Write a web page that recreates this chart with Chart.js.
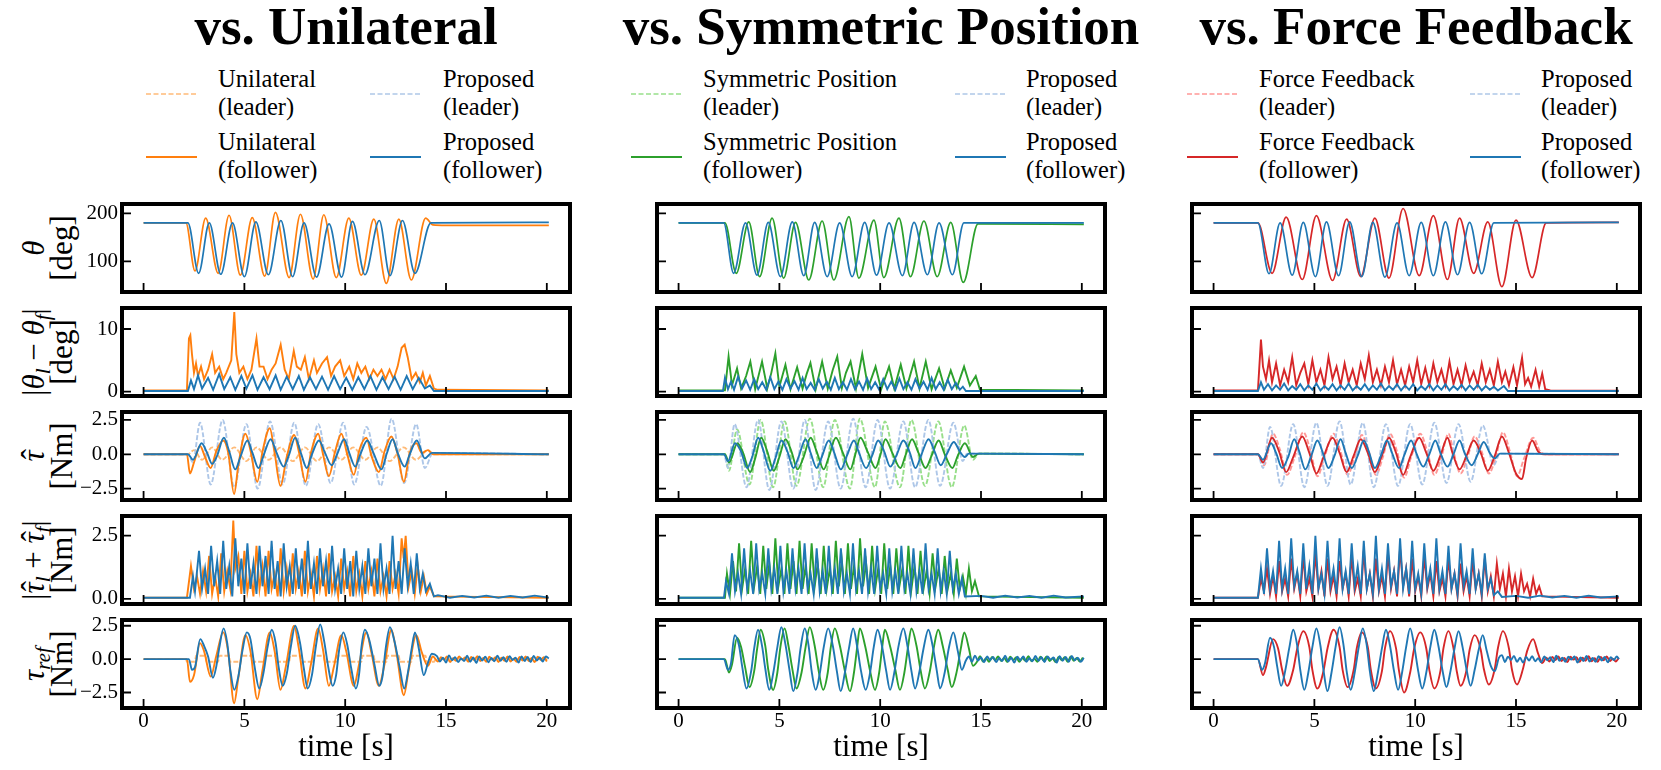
<!DOCTYPE html>
<html>
<head>
<meta charset="utf-8">
<script src="https://cdn.jsdelivr.net/npm/chart.js@4.4.1/dist/chart.umd.min.js"></script>
<style>
  body { margin: 0; width: 1661px; height: 770px; background: #fff; position: relative; overflow: hidden;
         font-family: "Liberation Serif", "DejaVu Serif", serif; color: #000; }
  canvas { position: absolute; }
  .title { position: absolute; top: 0; font-size: 53px; line-height: 53px; font-weight: bold;
           white-space: nowrap; transform: translateX(-50%); }
  .leg { position: absolute; font-size: 24.5px; line-height: 28px; white-space: nowrap; }
  .sample { position: absolute; }
  .ylab { position: absolute; width: 240px; height: 56px; font-size: 31px; line-height: 28px;
          text-align: center; white-space: nowrap; transform: rotate(-90deg); }
  .ylab i { font-style: italic; }
  .ylab sub { font-size: 0.68em; vertical-align: -0.28em; line-height: 0; }
  .hat { position: relative; display: inline-block; font-style: italic; }
  .hat b { position: absolute; left: 0.06em; right: -0.06em; top: -0.02em; text-align: center;
           font-weight: normal; font-style: normal; }
</style>
</head>
<body>
<script>
// ---------- data: [time (s), value] ----------
// column 1: vs. Unilateral
const uniThetaBase = [[0,180],[2.1,180],[2.55,80],[3.08,190],[3.7,75],[4.24,196],[4.8,71],[5.39,191],[6.01,69],[6.54,202],[7.22,66],[7.78,198],[8.41,63],[8.94,197],[9.56,66],[10.18,190],[10.8,71],[11.42,188],[12.04,54],[12.66,188],[13.28,61],[13.99,190],[14.35,176],[15,175],[20.1,175]];
const uniThetaPro = [[0,180],[2.2,180],[2.73,75],[3.26,180],[3.83,73],[4.41,180],[5.0,68],[5.57,182],[6.19,72],[6.81,185],[7.39,68],[7.96,180],[8.58,67],[9.2,178],[9.82,67],[10.36,183],[10.98,72],[11.69,185],[12.22,70],[12.84,185],[13.46,75],[14.25,180],[20.1,181]];

const uniErrBase = [[0,0.2],[2.15,0.2],[2.25,8.5],[2.32,9.0],[2.4,6],[2.5,3],[2.6,4.5],[2.7,2.5],[2.85,4],[3.0,2],[3.2,3.5],[3.4,6],[3.55,3],[3.75,4],[3.95,2],[4.1,3],[4.35,5],[4.5,12.7],[4.6,6],[4.75,3],[4.95,4],[5.15,2],[5.35,3.5],[5.6,8.5],[5.75,4],[5.95,4],[6.15,2],[6.35,3.5],[6.55,4.5],[6.8,7.5],[7.0,3.5],[7.2,2],[7.45,6.5],[7.6,4],[7.8,3.5],[8.0,5.5],[8.2,2],[8.45,5],[8.6,3],[8.85,4.5],[9.1,5.5],[9.3,2.5],[9.5,4],[9.75,5],[9.95,2.5],[10.2,4],[10.4,2],[10.6,4.5],[10.8,3],[11.0,4],[11.2,2],[11.4,3.5],[11.6,2.5],[11.8,3.5],[12.0,2],[12.2,3.5],[12.4,2],[12.6,4],[12.8,7],[12.95,7.5],[13.1,5.5],[13.3,2],[13.5,3],[13.7,1.5],[13.85,3],[14.0,1],[14.2,2.5],[14.4,0.5],[14.6,0.3],[20.1,0.2]];
const uniErrPro = [[0,0.1],[2.2,0.1],[2.35,1.8],[2.5,0.4],[2.7,2.6],[2.9,0.5],[3.2,2.2],[3.45,0.3],[3.75,2.8],[4.0,0.4],[4.3,2.3],[4.55,0.3],[4.85,2.5],[5.1,0.5],[5.4,2.6],[5.65,0.3],[5.95,2.3],[6.25,0.4],[6.55,2.6],[6.8,0.3],[7.1,2.4],[7.4,0.4],[7.7,2.5],[7.95,0.3],[8.25,2.3],[8.55,0.4],[8.85,2.4],[9.15,0.3],[9.45,2.5],[9.75,0.4],[10.05,2.2],[10.35,0.3],[10.65,2.3],[10.95,0.4],[11.25,2.5],[11.55,0.3],[11.85,2.3],[12.15,0.4],[12.45,2.4],[12.75,0.3],[13.05,2.5],[13.35,0.4],[13.65,2.2],[13.95,0.5],[14.2,1.0],[14.4,0.1],[20.1,0.1]];

const uniTauBaseL = [[0,0],[2.2,0],[2.5,0.3],[2.9,-0.4],[3.4,0.5],[3.9,-0.4],[4.5,0.5],[5.1,-0.5],[5.6,0.5],[6.2,-0.4],[6.8,0.5],[7.4,-0.5],[8.0,0.5],[8.6,-0.5],[9.2,0.5],[9.8,-0.4],[10.4,0.5],[11.0,-0.4],[11.6,0.5],[12.2,-0.5],[12.9,0.5],[13.5,-0.4],[14.1,0.3],[14.4,0],[20.1,0]];
const uniTauProL = [[0,0],[2.2,0],[2.45,-0.6],[2.8,2.3],[3.33,-2.2],[3.92,2.5],[4.5,-2.4],[5.1,2.2],[5.66,-2.5],[6.27,2.4],[6.9,-2.2],[7.47,2.3],[8.05,-2.3],[8.66,2.2],[9.28,-2.1],[9.9,2.3],[10.45,-2.2],[11.06,2.0],[11.77,-2.3],[12.3,2.6],[12.92,-2.1],[13.52,2.2],[13.95,-1.0],[14.35,0.1],[20.1,0]];
const uniTauBase = [[0,0],[2.15,0],[2.3,-1.4],[2.5,-0.6],[2.8,0.6],[3.05,-0.2],[3.33,-1.0],[3.6,0.2],[3.95,1.0],[4.2,0.1],[4.49,-2.9],[4.7,-0.8],[5.05,1.5],[5.3,0.3],[5.64,-2.0],[5.9,0.2],[6.26,1.9],[6.5,0.1],[6.79,-2.3],[7.1,-0.2],[7.47,1.4],[7.7,0.2],[8.03,-2.0],[8.3,0.1],[8.66,1.5],[8.9,0],[9.19,-1.6],[9.5,0.2],[9.81,1.5],[10.1,0],[10.43,-1.5],[10.7,0.3],[11.05,1.2],[11.3,-0.1],[11.67,-1.3],[11.95,0.2],[12.29,1.3],[12.6,0],[12.91,-2.0],[13.2,0.1],[13.53,0.8],[13.8,0.1],[14.1,0.3],[14.35,0],[20.1,0]];
const uniTauPro = [[0,0],[2.2,0],[2.45,-0.4],[2.88,0.8],[3.15,0.1],[3.4,-0.7],[3.65,-0.1],[3.98,1.2],[4.25,0.2],[4.55,-1.1],[4.8,-0.2],[5.15,1.0],[5.4,0.1],[5.7,-1.0],[5.95,-0.1],[6.3,1.1],[6.6,0.1],[6.95,-0.9],[7.2,-0.1],[7.52,1.2],[7.8,0.1],[8.1,-1.0],[8.35,0],[8.7,1.0],[9.0,0.1],[9.33,-0.8],[9.6,0],[9.95,1.1],[10.2,0.1],[10.5,-0.9],[10.75,0],[11.1,1.0],[11.4,0.1],[11.8,-1.1],[12.05,0],[12.35,1.1],[12.6,0.1],[12.95,-0.9],[13.2,0],[13.55,1.0],[13.95,-0.3],[14.3,0.1],[20.1,0]];

const uniSumBase = [[0,0.05],[2.15,0.05],[2.35,1.3],[2.5,0.4],[2.65,0.9],[2.8,0.2],[2.95,1.1],[3.1,0.3],[3.25,1.7],[3.4,0.2],[3.55,0.9],[3.7,0.1],[3.85,1.8],[4.0,0.3],[4.15,1.1],[4.3,0.4],[4.45,3.1],[4.55,1.2],[4.7,1.7],[4.85,0.2],[5.0,1.9],[5.15,0.3],[5.3,1.0],[5.45,0.1],[5.6,2.1],[5.75,0.4],[5.9,1.3],[6.05,0.1],[6.2,1.9],[6.35,0.4],[6.5,1.0],[6.65,0.1],[6.8,2.0],[6.95,0.3],[7.1,1.2],[7.25,0.1],[7.4,1.8],[7.55,0.4],[7.7,1.1],[7.85,0.1],[8.0,1.9],[8.15,0.3],[8.3,1.0],[8.45,0.1],[8.6,1.7],[8.75,0.4],[8.9,1.2],[9.05,0.1],[9.2,1.8],[9.35,0.3],[9.5,0.9],[9.65,0.1],[9.8,1.6],[9.95,0.4],[10.1,1.1],[10.25,0.1],[10.4,1.7],[10.55,0.3],[10.7,1.0],[10.85,0.1],[11.0,1.5],[11.15,0.4],[11.3,1.1],[11.45,0.1],[11.6,1.6],[11.75,0.3],[11.9,0.9],[12.05,0.1],[12.2,1.5],[12.35,0.4],[12.5,1.0],[12.65,0.2],[12.8,2.4],[12.9,1.6],[13.0,2.5],[13.15,0.5],[13.3,1.1],[13.45,0.2],[13.6,1.3],[13.75,0.3],[13.9,0.9],[14.05,0.2],[14.2,0.5],[14.4,0.1],[20.1,0.05]];
const uniSumPro = [[0,0.05],[2.3,0.05],[2.45,0.9],[2.55,0.3],[2.75,1.9],[2.9,0.4],[3.05,1.2],[3.2,0.2],[3.35,2.1],[3.5,0.5],[3.65,1.5],[3.8,0.2],[3.95,2.3],[4.1,0.4],[4.25,1.3],[4.4,0.1],[4.55,2.4],[4.7,0.5],[4.85,1.6],[5.0,0.2],[5.15,2.2],[5.3,0.4],[5.45,1.4],[5.6,0.2],[5.75,2.1],[5.9,0.5],[6.05,1.7],[6.2,0.2],[6.35,2.3],[6.5,0.4],[6.65,1.5],[6.8,0.1],[6.95,2.2],[7.1,0.5],[7.25,1.3],[7.4,0.2],[7.55,2.0],[7.7,0.4],[7.85,1.6],[8.0,0.2],[8.15,2.3],[8.3,0.4],[8.45,1.4],[8.6,0.2],[8.75,2.0],[8.9,0.5],[9.05,1.5],[9.2,0.2],[9.35,2.1],[9.5,0.4],[9.65,1.2],[9.8,0.2],[9.95,2.0],[10.1,0.4],[10.25,1.5],[10.4,0.1],[10.55,1.9],[10.7,0.4],[10.85,1.3],[11.0,0.2],[11.15,2.0],[11.3,0.5],[11.45,1.6],[11.6,0.2],[11.75,2.2],[11.9,0.4],[12.05,1.2],[12.2,0.2],[12.35,2.5],[12.5,0.4],[12.65,1.5],[12.8,0.2],[12.95,2.0],[13.1,0.5],[13.25,1.4],[13.4,0.2],[13.55,1.8],[13.7,0.4],[13.85,1.0],[14.0,0.3],[14.2,0.6],[14.4,0.1],[14.6,0.15],[15.2,0.05],[15.8,0.12],[16.4,0.06],[17,0.13],[17.6,0.05],[18.2,0.12],[18.8,0.06],[19.4,0.13],[20.1,0.05]];

const uniRefBaseL = [[0,0],[2.1,0],[2.15,-0.2],[2.55,-0.2],[2.6,0.25],[3.08,0.25],[3.13,-0.2],[3.7,-0.2],[3.75,0.25],[4.24,0.25],[4.29,-0.2],[4.8,-0.2],[4.85,0.25],[5.39,0.25],[5.44,-0.2],[6.01,-0.2],[6.06,0.25],[6.54,0.25],[6.59,-0.2],[7.22,-0.2],[7.27,0.25],[7.78,0.25],[7.83,-0.2],[8.41,-0.2],[8.46,0.25],[8.94,0.25],[8.99,-0.2],[9.56,-0.2],[9.61,0.25],[10.18,0.25],[10.23,-0.2],[10.8,-0.2],[10.85,0.25],[11.42,0.25],[11.47,-0.2],[12.04,-0.2],[12.09,0.25],[12.66,0.25],[12.71,-0.2],[13.28,-0.2],[13.33,0.25],[13.99,0.25],[14.04,-0.2],[14.4,-0.2],[14.5,0],[20.1,0]];
const uniRefBase = [[0,0],[2.15,0],[2.3,-1.7],[2.5,-1.2],[2.8,1.2],[3.0,0.6],[3.33,-1.3],[3.6,0.2],[3.95,2.0],[4.2,0.5],[4.49,-3.3],[4.7,-1.4],[5.05,1.8],[5.3,0.6],[5.64,-3.0],[5.9,-0.8],[6.26,2.0],[6.5,0.6],[6.79,-2.3],[7.05,-0.6],[7.47,2.5],[7.7,0.8],[8.03,-2.2],[8.3,-0.4],[8.66,2.3],[8.9,0.7],[9.19,-2.0],[9.45,-0.5],[9.81,1.8],[10.05,0.6],[10.43,-2.0],[10.7,-0.3],[11.05,2.0],[11.3,0.5],[11.67,-2.0],[11.95,-0.4],[12.29,2.2],[12.55,0.4],[12.91,-2.7],[13.15,-0.8],[13.53,1.8],[13.8,0.5],[14.1,-0.5],[14.35,0.2],[14.6,-0.18],[14.75,0.15],[14.9,-0.05],[15.05,0.2],[15.2,-0.22],[15.35,0.06],[15.5,-0.12],[15.65,0.2],[15.8,-0.04],[15.95,0.12],[16.1,-0.2],[16.25,0.16],[16.4,-0.08],[16.55,0.22],[16.7,-0.15],[16.85,0.08],[17.0,-0.2],[17.15,0.18],[17.3,-0.06],[17.45,0.14],[17.6,-0.22],[17.75,0.1],[17.9,-0.12],[18.05,0.2],[18.2,-0.18],[18.35,0.04],[18.5,-0.2],[18.65,0.16],[18.8,-0.1],[18.95,0.2],[19.1,-0.14],[19.25,0.08],[19.4,-0.22],[19.55,0.18],[19.7,-0.06],[19.85,0.14],[20.0,-0.18]];
const uniRefPro = [[0,0],[2.25,0],[2.4,-0.8],[2.55,-0.6],[2.81,1.5],[3.0,1.0],[3.2,0.2],[3.44,-1.4],[3.6,-0.6],[3.75,0.8],[3.97,2.3],[4.15,1.2],[4.3,-0.8],[4.5,-2.3],[4.7,-1.3],[4.9,0.6],[5.12,2.0],[5.3,1.5],[5.5,-0.5],[5.74,-2.2],[5.95,-1.0],[6.15,0.9],[6.36,2.2],[6.55,1.2],[6.7,-0.6],[6.9,-2.0],[7.1,-1.1],[7.3,0.9],[7.52,2.5],[7.75,1.3],[7.95,-0.7],[8.14,-2.2],[8.35,-1.2],[8.55,1.0],[8.76,2.6],[8.95,1.4],[9.15,-0.5],[9.38,-2.0],[9.55,-1.2],[9.7,0.7],[9.91,2.0],[10.1,1.1],[10.3,-0.7],[10.53,-2.2],[10.7,-1.0],[10.8,0.8],[10.98,2.2],[11.2,1.4],[11.45,-0.4],[11.69,-2.0],[11.85,-1.3],[12.0,0.7],[12.22,2.4],[12.45,1.3],[12.7,-0.6],[12.93,-2.2],[13.1,-1.1],[13.3,0.8],[13.46,2.0],[13.65,0.8],[13.9,-1.2],[14.1,-0.3],[14.3,0.4],[14.55,0.22],[14.7,-0.18],[14.85,0.1],[15.0,-0.25],[15.15,0.28],[15.3,-0.08],[15.45,0.15],[15.6,-0.22],[15.75,0.05],[15.9,-0.15],[16.05,0.25],[16.2,-0.2],[16.35,0.12],[16.5,-0.28],[16.65,0.2],[16.8,-0.1],[16.95,0.18],[17.1,-0.24],[17.25,0.08],[17.4,-0.16],[17.55,0.26],[17.7,-0.12],[17.85,0.14],[18.0,-0.2],[18.15,0.22],[18.3,-0.06],[18.45,0.1],[18.6,-0.26],[18.75,0.2],[18.9,-0.14],[19.05,0.16],[19.2,-0.22],[19.35,0.24],[19.5,-0.1],[19.65,0.12],[19.8,-0.18],[19.95,0.2],[20.1,0.05]];

// column 2: vs. Symmetric Position
const symThetaBase = [[0,180],[2.3,180],[2.86,75],[3.48,182],[4.02,68],[4.64,190],[5.21,65],[5.8,181],[6.46,61],[7.12,184],[7.7,61],[8.45,193],[8.94,65],[9.69,186],[10.18,66],[10.93,190],[11.5,68],[12.17,184],[12.83,68],[13.5,181],[14.12,56],[14.85,178],[20.1,177]];
const symThetaPro = [[0,180],[2.24,180],[2.73,75],[3.32,180],[3.89,71],[4.45,181],[5.05,68],[5.64,182],[6.21,70],[6.75,181],[7.37,68],[7.99,180],[8.61,68],[9.23,181],[9.82,71],[10.44,180],[11.1,70],[11.68,181],[12.34,72],[12.92,180],[13.58,72],[14.15,180],[20.1,180]];

const symErrBase = [[0,0.2],[2.3,0.2],[2.48,5.6],[2.65,1.0],[2.9,3.7],[3.1,0.5],[3.35,2.5],[3.56,4.8],[3.8,0.4],[4.14,4.8],[4.4,0.5],[4.6,3.0],[4.8,6.1],[5.0,0.8],[5.3,4.3],[5.55,0.4],[5.88,3.9],[6.15,0.5],[6.35,2.8],[6.54,4.6],[6.8,0.4],[7.12,4.8],[7.4,0.5],[7.65,3.5],[7.87,5.6],[8.1,0.6],[8.3,3.0],[8.53,4.8],[8.8,0.5],[9.11,6.0],[9.4,0.6],[9.77,4.0],[10.05,0.4],[10.44,4.0],[10.7,0.5],[11.02,4.3],[11.3,0.5],[11.68,4.8],[11.95,0.5],[12.26,4.8],[12.55,0.4],[12.92,3.7],[13.2,0.5],[13.5,3.4],[13.8,0.6],[14.16,4.0],[14.45,1.0],[14.74,2.5],[14.95,0.3],[20.1,0.2]];
const symErrPro = [[0,0.1],[2.2,0.1],[2.3,2.2],[2.45,0.4],[2.6,1.6],[2.75,0.3],[2.95,2.4],[3.15,0.5],[3.35,1.8],[3.55,0.3],[3.75,2.0],[3.95,0.4],[4.15,1.5],[4.35,0.3],[4.55,2.3],[4.75,0.4],[4.95,1.6],[5.15,0.3],[5.35,2.0],[5.55,0.5],[5.75,1.7],[5.95,0.3],[6.15,2.2],[6.35,0.4],[6.55,1.4],[6.75,0.3],[6.95,2.0],[7.15,0.5],[7.35,1.6],[7.55,0.3],[7.75,2.2],[7.95,0.4],[8.15,1.5],[8.35,0.3],[8.55,2.0],[8.75,0.4],[8.95,1.6],[9.15,0.3],[9.35,2.1],[9.55,0.4],[9.75,1.5],[9.95,0.3],[10.15,2.0],[10.35,0.4],[10.55,1.6],[10.75,0.3],[10.95,2.1],[11.15,0.4],[11.35,1.5],[11.55,0.3],[11.75,2.0],[11.95,0.5],[12.15,1.6],[12.35,0.3],[12.55,2.2],[12.75,0.4],[12.95,1.5],[13.15,0.3],[13.35,1.9],[13.55,0.4],[13.75,1.4],[13.95,0.3],[14.1,0.8],[14.25,0.1],[20.1,0.1]];

const symTauBaseL = [[0,0],[2.3,0],[2.5,-1.2],[2.9,1.8],[3.52,-2.2],[4.07,2.5],[4.69,-2.4],[5.26,2.4],[5.85,-2.3],[6.51,2.6],[7.17,-2.4],[7.75,2.5],[8.5,-2.5],[8.99,2.6],[9.74,-2.4],[10.23,2.4],[10.98,-2.4],[11.55,2.5],[12.22,-2.3],[12.88,2.4],[13.55,-2.4],[14.17,2.1],[14.6,-0.4],[14.9,0.05],[20.1,0]];
const symTauProL = [[0,0],[2.25,0],[2.45,-1.0],[2.78,2.2],[3.37,-2.4],[3.94,2.5],[4.5,-2.6],[5.1,2.4],[5.69,-2.5],[6.26,2.5],[6.8,-2.6],[7.42,2.4],[8.04,-2.5],[8.66,2.6],[9.28,-2.4],[9.87,2.5],[10.49,-2.5],[11.15,2.4],[11.73,-2.4],[12.39,2.5],[12.97,-2.3],[13.63,2.3],[14.1,-0.5],[14.3,0.05],[20.1,0]];
const symTauBase = [[0,0],[2.3,0],[2.5,-0.6],[2.92,0.8],[3.2,0.1],[3.55,-1.3],[3.8,-0.3],[4.1,1.2],[4.4,0.2],[4.72,-1.2],[5.0,-0.2],[5.3,1.1],[5.6,0.2],[5.9,-1.1],[6.2,-0.2],[6.55,1.2],[6.85,0.2],[7.2,-1.1],[7.45,-0.2],[7.8,1.2],[8.15,0.1],[8.52,-1.1],[8.75,-0.1],[9.02,1.2],[9.4,0.1],[9.77,-1.0],[10.0,-0.1],[10.26,1.1],[10.6,0.1],[11.0,-1.0],[11.25,-0.1],[11.58,1.1],[11.9,0.1],[12.25,-1.0],[12.55,-0.1],[12.9,1.0],[13.2,0],[13.58,-1.0],[13.85,-0.1],[14.2,0.8],[14.6,-0.2],[14.9,0.05],[20.1,0]];
const symTauPro = [[0,0],[2.25,0],[2.45,-0.5],[2.8,0.8],[3.1,0.2],[3.4,-1.0],[3.65,-0.2],[3.95,1.2],[4.2,0.3],[4.55,-1.2],[4.8,-0.3],[5.1,1.0],[5.4,0.2],[5.7,-1.0],[5.95,-0.2],[6.3,1.1],[6.55,0.1],[6.85,-1.0],[7.1,-0.2],[7.45,1.0],[7.7,0.2],[8.05,-1.1],[8.35,-0.1],[8.7,1.0],[8.95,0.1],[9.3,-1.0],[9.6,-0.1],[9.9,1.0],[10.2,0.2],[10.5,-0.9],[10.8,-0.1],[11.15,1.0],[11.45,0.2],[11.75,-1.0],[12.05,0],[12.4,1.1],[12.7,0.2],[13.0,-0.8],[13.3,0],[13.65,0.9],[13.95,0.2],[14.2,-0.2],[14.4,0.05],[20.1,0]];

const symSumBase = [[0,0.05],[2.3,0.05],[2.4,1.0],[2.55,0.2],[2.7,1.5],[2.85,0.3],[3.0,2.2],[3.15,0.4],[3.3,1.2],[3.45,0.2],[3.6,2.3],[3.75,0.5],[3.9,1.3],[4.05,0.2],[4.2,2.1],[4.35,0.4],[4.5,1.4],[4.65,0.2],[4.8,2.4],[4.95,0.5],[5.1,1.2],[5.25,0.2],[5.4,2.2],[5.55,0.4],[5.7,1.5],[5.85,0.2],[6.0,2.3],[6.15,0.4],[6.3,1.3],[6.45,0.2],[6.6,2.2],[6.75,0.5],[6.9,1.4],[7.05,0.2],[7.2,2.1],[7.35,0.4],[7.5,1.2],[7.65,0.2],[7.8,2.3],[7.95,0.5],[8.1,1.5],[8.25,0.2],[8.4,2.2],[8.55,0.4],[8.7,1.3],[8.85,0.2],[9.0,2.4],[9.15,0.5],[9.3,1.4],[9.45,0.2],[9.6,2.1],[9.75,0.4],[9.9,1.2],[10.05,0.2],[10.2,2.2],[10.35,0.4],[10.5,1.3],[10.65,0.2],[10.8,2.0],[10.95,0.5],[11.1,1.2],[11.25,0.2],[11.4,2.1],[11.55,0.4],[11.7,1.3],[11.85,0.2],[12.0,1.9],[12.15,0.4],[12.3,1.1],[12.45,0.2],[12.6,1.8],[12.75,0.5],[12.9,1.2],[13.05,0.2],[13.2,1.7],[13.35,0.4],[13.5,1.0],[13.65,0.2],[13.8,1.6],[13.95,0.4],[14.1,0.9],[14.25,0.2],[14.4,1.2],[14.55,0.3],[14.7,0.7],[14.9,0.1],[20.1,0.05]];
const symSumPro = [[0,0.05],[2.25,0.05],[2.35,0.7],[2.5,0.2],[2.65,1.8],[2.8,0.3],[2.95,1.0],[3.1,0.2],[3.25,2.0],[3.4,0.4],[3.55,1.1],[3.7,0.2],[3.85,2.2],[4.0,0.4],[4.15,1.0],[4.3,0.2],[4.45,2.0],[4.6,0.4],[4.75,1.2],[4.9,0.2],[5.05,2.1],[5.2,0.3],[5.35,1.1],[5.5,0.2],[5.65,2.0],[5.8,0.4],[5.95,1.2],[6.1,0.2],[6.25,2.2],[6.4,0.4],[6.55,1.0],[6.7,0.2],[6.85,2.0],[7.0,0.3],[7.15,1.1],[7.3,0.2],[7.45,2.1],[7.6,0.4],[7.75,1.2],[7.9,0.2],[8.05,2.0],[8.2,0.3],[8.35,1.0],[8.5,0.2],[8.65,2.2],[8.8,0.4],[8.95,1.1],[9.1,0.2],[9.25,2.0],[9.4,0.3],[9.55,1.2],[9.7,0.2],[9.85,2.1],[10.0,0.4],[10.15,1.0],[10.3,0.2],[10.45,2.0],[10.6,0.3],[10.75,1.1],[10.9,0.2],[11.05,2.1],[11.2,0.4],[11.35,1.0],[11.5,0.2],[11.65,2.0],[11.8,0.3],[11.95,1.1],[12.1,0.2],[12.25,2.2],[12.4,0.4],[12.55,1.0],[12.7,0.2],[12.85,2.0],[13.0,0.3],[13.15,1.1],[13.3,0.2],[13.45,1.9],[13.6,0.4],[13.75,1.0],[13.9,0.2],[14.05,0.8],[14.2,0.1],[15.0,0.12],[15.6,0.05],[16.2,0.13],[16.8,0.06],[17.4,0.12],[18.0,0.05],[18.6,0.13],[19.2,0.06],[20.1,0.1]];

const symRefBase = [[0,0],[2.3,0],[2.5,-1.0],[2.65,-0.4],[2.9,1.6],[3.1,0.9],[3.3,-0.6],[3.52,-2.1],[3.75,-0.9],[3.9,0.8],[4.07,2.2],[4.3,1.0],[4.45,-0.8],[4.69,-2.3],[4.9,-1.0],[5.05,0.9],[5.26,2.3],[5.45,1.0],[5.65,-0.8],[5.85,-2.2],[6.1,-1.0],[6.3,0.9],[6.51,2.4],[6.75,1.0],[6.95,-0.9],[7.17,-2.3],[7.4,-1.0],[7.55,0.9],[7.75,2.3],[8.0,1.0],[8.25,-0.9],[8.5,-2.4],[8.7,-1.0],[8.85,0.8],[8.99,2.3],[9.25,1.0],[9.5,-0.9],[9.74,-2.3],[9.95,-1.0],[10.1,0.9],[10.23,2.2],[10.5,0.9],[10.75,-0.8],[10.98,-2.3],[11.2,-1.0],[11.38,0.9],[11.55,2.3],[11.8,1.0],[12.0,-0.8],[12.22,-2.2],[12.45,-1.0],[12.65,0.8],[12.88,2.2],[13.1,1.0],[13.35,-0.8],[13.55,-2.1],[13.8,-0.9],[14.0,0.8],[14.17,2.0],[14.4,0.8],[14.6,-0.5],[14.8,-0.2],[14.95,0.22],[15.1,-0.18],[15.25,0.06],[15.4,-0.2],[15.55,0.16],[15.7,-0.08],[15.85,0.2],[16.0,-0.14],[16.15,0.1],[16.3,-0.22],[16.45,0.18],[16.6,-0.06],[16.75,0.14],[16.9,-0.2],[17.05,0.08],[17.2,-0.12],[17.35,0.22],[17.5,-0.16],[17.65,0.04],[17.8,-0.2],[17.95,0.18],[18.1,-0.1],[18.25,0.2],[18.4,-0.14],[18.55,0.06],[18.7,-0.22],[18.85,0.16],[19.0,-0.08],[19.15,0.14],[19.3,-0.2],[19.45,0.2],[19.6,-0.12],[19.75,0.08],[19.9,-0.18],[20.05,0.12]];
const symRefPro = [[0,0],[2.25,0],[2.45,-0.8],[2.6,-0.3],[2.78,1.8],[3.0,1.0],[3.15,-0.5],[3.37,-2.2],[3.6,-0.9],[3.75,0.8],[3.94,2.2],[4.15,0.9],[4.3,-0.7],[4.5,-2.3],[4.7,-1.0],[4.9,0.9],[5.1,2.4],[5.3,1.1],[5.5,-0.8],[5.69,-2.4],[5.9,-1.0],[6.05,0.8],[6.26,2.3],[6.45,1.0],[6.6,-0.9],[6.8,-2.3],[7.0,-1.1],[7.2,0.9],[7.42,2.3],[7.65,1.0],[7.85,-0.9],[8.04,-2.4],[8.25,-1.0],[8.45,0.8],[8.66,2.3],[8.85,1.0],[9.05,-0.9],[9.28,-2.3],[9.5,-1.0],[9.68,0.9],[9.87,2.2],[10.1,0.9],[10.3,-0.9],[10.49,-2.3],[10.7,-1.0],[10.9,0.9],[11.15,2.3],[11.35,1.0],[11.55,-0.9],[11.73,-2.2],[11.95,-0.9],[12.15,0.8],[12.39,2.2],[12.6,1.0],[12.8,-0.8],[12.97,-2.2],[13.2,-1.0],[13.4,0.8],[13.63,2.0],[13.85,0.6],[14.05,-0.8],[14.25,-0.1],[14.4,0.2],[14.55,-0.2],[14.7,0.26],[14.85,-0.1],[15.0,0.12],[15.15,-0.24],[15.3,0.2],[15.45,-0.06],[15.6,0.16],[15.75,-0.22],[15.9,0.08],[16.05,-0.14],[16.2,0.25],[16.35,-0.18],[16.5,0.1],[16.65,-0.26],[16.8,0.18],[16.95,-0.08],[17.1,0.2],[17.25,-0.2],[17.4,0.06],[17.55,-0.16],[17.7,0.24],[17.85,-0.12],[18.0,0.14],[18.15,-0.22],[18.3,0.2],[18.45,-0.04],[18.6,0.12],[18.75,-0.26],[18.9,0.22],[19.05,-0.12],[19.2,0.16],[19.35,-0.2],[19.5,0.24],[19.65,-0.08],[19.8,0.1],[19.95,-0.2],[20.1,0.1]];

// column 3: vs. Force Feedback
const ffThetaBase = [[0,180],[2.2,180],[2.9,75],[3.6,192],[4.4,62],[5.1,195],[5.9,60],[6.6,188],[7.3,68],[8.0,190],[8.7,65],[9.4,210],[10.2,70],[10.9,195],[11.6,62],[12.2,190],[12.9,75],[13.6,182],[14.3,47],[15.0,186],[15.8,66],[16.5,180],[20.1,181]];
const ffThetaPro = [[0,180],[2.2,180],[2.75,74],[3.3,180],[3.9,71],[4.45,181],[5.05,68],[5.6,182],[6.2,70],[6.75,182],[7.35,68],[7.9,181],[8.5,67],[9.1,180],[9.7,70],[10.3,181],[10.9,70],[11.5,182],[12.1,72],[12.7,181],[13.3,74],[13.9,180],[20.1,181]];

const ffErrBase = [[0,0.2],[2.2,0.2],[2.35,8.3],[2.45,4],[2.6,2],[2.75,5],[2.9,1.5],[3.1,4.5],[3.3,1],[3.5,3.5],[3.7,1.5],[3.9,5.5],[4.1,1],[4.3,3],[4.5,4.5],[4.7,1.2],[4.9,5],[5.1,1.5],[5.3,3.5],[5.5,1],[5.7,5.5],[5.9,2],[6.1,4],[6.3,1],[6.5,4.5],[6.7,1.5],[6.9,3.5],[7.1,1],[7.3,4.5],[7.5,2],[7.7,5.8],[7.9,1.5],[8.1,3.5],[8.3,1],[8.5,4],[8.7,1.5],[8.9,5],[9.1,1.2],[9.3,3.5],[9.5,1],[9.7,4],[9.9,1.5],[10.1,5],[10.3,1.2],[10.5,3.8],[10.7,1],[10.9,4.5],[11.1,1.5],[11.3,3.5],[11.5,1],[11.7,4.8],[11.9,1.2],[12.1,3.5],[12.3,1],[12.5,4.2],[12.7,1.5],[12.9,3.2],[13.1,1],[13.3,4.5],[13.5,1.5],[13.7,3.5],[13.9,1],[14.1,4.8],[14.3,1.5],[14.47,3.2],[14.65,1.0],[14.87,3.9],[15.05,1.0],[15.3,5.4],[15.45,1.2],[15.6,2.2],[15.75,0.8],[15.97,3.5],[16.15,0.8],[16.3,2.9],[16.45,0.4],[16.7,0.2],[20.1,0.15]];
const ffErrPro = [[0,0.1],[2.2,0.1],[2.35,1.5],[2.5,0.3],[2.7,1.2],[2.9,0.2],[3.1,1.0],[3.3,0.3],[3.5,1.3],[3.7,0.2],[3.9,0.9],[4.1,0.3],[4.3,1.2],[4.5,0.2],[4.7,1.0],[4.9,0.3],[5.1,1.3],[5.3,0.2],[5.5,0.9],[5.7,0.3],[5.9,1.2],[6.1,0.2],[6.3,1.0],[6.5,0.3],[6.7,1.3],[6.9,0.2],[7.1,0.9],[7.3,0.3],[7.5,1.2],[7.7,0.2],[7.9,1.0],[8.1,0.3],[8.3,1.3],[8.5,0.2],[8.7,0.9],[8.9,0.3],[9.1,1.2],[9.3,0.2],[9.5,1.0],[9.7,0.3],[9.9,1.2],[10.1,0.2],[10.3,0.9],[10.5,0.3],[10.7,1.2],[10.9,0.2],[11.1,1.0],[11.3,0.3],[11.5,1.2],[11.7,0.2],[11.9,0.9],[12.1,0.3],[12.3,1.1],[12.5,0.2],[12.7,1.0],[12.9,0.3],[13.1,1.1],[13.3,0.2],[13.5,0.9],[13.7,0.3],[13.9,0.8],[14.1,0.2],[14.4,0.9],[14.6,0.1],[20.1,0.1]];

const ffTauBaseL = [[0,0],[2.2,0],[2.5,-0.8],[2.95,1.5],[3.3,0.3],[3.65,-1.5],[4.0,-0.3],[4.45,1.6],[4.8,0.3],[5.15,-1.6],[5.5,-0.2],[5.95,1.5],[6.3,0.2],[6.65,-1.5],[7.0,-0.2],[7.35,1.4],[7.7,0.2],[8.05,-1.5],[8.4,-0.2],[8.75,1.5],[9.1,0.2],[9.45,-1.7],[9.8,-0.2],[10.25,1.5],[10.6,0.2],[10.95,-1.5],[11.3,-0.2],[11.65,1.5],[11.9,0.2],[12.25,-1.4],[12.6,-0.2],[12.95,1.3],[13.3,0.2],[13.65,-1.4],[14.0,-0.2],[14.35,1.6],[14.7,0.2],[15.05,-1.6],[15.4,-0.3],[15.85,1.2],[16.2,0.2],[16.5,0],[20.1,0]];
const ffTauProL = [[0,0],[2.2,0],[2.45,-1.0],[2.8,2.0],[3.35,-2.3],[3.95,2.2],[4.5,-2.4],[5.1,2.3],[5.65,-2.3],[6.25,2.4],[6.8,-2.2],[7.4,2.3],[7.95,-2.4],[8.55,2.2],[9.15,-2.3],[9.75,2.2],[10.35,-2.2],[10.95,2.3],[11.55,-2.1],[12.15,2.2],[12.75,-2.0],[13.35,2.1],[13.9,-0.8],[14.2,0.05],[20.1,0]];
const ffTauBase = [[0,0],[2.2,0],[2.45,-0.6],[2.9,1.2],[3.25,0.2],[3.6,-1.3],[3.95,-0.2],[4.4,1.3],[4.75,0.1],[5.1,-1.4],[5.45,-0.2],[5.9,1.2],[6.25,0.1],[6.6,-1.3],[6.95,-0.1],[7.3,1.1],[7.65,0.1],[8.0,-1.3],[8.35,-0.1],[8.7,1.2],[9.05,0.1],[9.4,-1.5],[9.75,-0.2],[10.2,1.2],[10.55,0.1],[10.9,-1.2],[11.25,-0.1],[11.6,1.2],[11.85,0.1],[12.2,-1.1],[12.55,-0.1],[12.9,1.0],[13.25,0.1],[13.6,-1.2],[13.95,-0.1],[14.3,1.3],[14.65,0.1],[15.0,-1.4],[15.3,-1.8],[15.5,-0.3],[15.8,1.0],[16.1,0.2],[16.4,0],[20.1,0]];
const ffTauPro = [[0,0],[2.2,0],[2.45,-0.4],[2.85,0.8],[3.1,0.1],[3.4,-1.0],[3.7,-0.2],[4.0,1.1],[4.25,0.2],[4.55,-1.1],[4.85,-0.1],[5.15,1.0],[5.4,0.2],[5.7,-1.0],[6.0,-0.1],[6.3,1.1],[6.55,0.1],[6.85,-1.0],[7.15,-0.1],[7.45,1.0],[7.7,0.2],[8.0,-1.0],[8.3,-0.1],[8.6,1.0],[8.85,0.1],[9.2,-1.0],[9.45,-0.1],[9.8,1.0],[10.05,0.1],[10.4,-0.9],[10.7,0],[11.0,1.0],[11.25,0.1],[11.6,-0.9],[11.9,0],[12.2,1.0],[12.45,0.1],[12.8,-0.8],[13.1,0],[13.4,0.9],[13.7,0.1],[13.95,-0.3],[14.2,0.05],[20.1,0]];

const ffSumBase = [[0,0.05],[2.2,0.05],[2.35,0.8],[2.5,0.3],[2.65,1.2],[2.8,0.2],[2.95,0.9],[3.1,0.1],[3.25,1.5],[3.4,0.3],[3.55,0.8],[3.7,0.1],[3.85,1.6],[4.0,0.4],[4.15,1.0],[4.3,0.1],[4.45,1.7],[4.6,0.3],[4.75,0.8],[4.9,0.1],[5.05,1.8],[5.2,0.4],[5.35,1.1],[5.5,0.1],[5.65,1.6],[5.8,0.3],[5.95,0.9],[6.1,0.1],[6.25,1.5],[6.4,0.4],[6.55,1.0],[6.7,0.1],[6.85,1.7],[7.0,0.3],[7.15,0.8],[7.3,0.1],[7.45,1.9],[7.6,0.4],[7.75,1.0],[7.9,0.1],[8.05,1.6],[8.2,0.3],[8.35,0.9],[8.5,0.1],[8.65,1.8],[8.8,0.4],[8.95,1.1],[9.1,0.1],[9.25,2.0],[9.4,0.5],[9.55,1.2],[9.7,0.1],[9.85,1.6],[10.0,0.3],[10.15,0.9],[10.3,0.1],[10.45,1.7],[10.6,0.4],[10.75,1.0],[10.9,0.1],[11.05,1.5],[11.2,0.3],[11.35,0.8],[11.5,0.1],[11.65,1.6],[11.8,0.4],[11.95,1.0],[12.1,0.1],[12.25,1.4],[12.4,0.3],[12.55,0.9],[12.7,0.1],[12.85,1.5],[13.0,0.4],[13.15,1.0],[13.3,0.1],[13.45,1.6],[13.6,0.3],[13.75,0.9],[13.9,0.1],[14.05,1.4],[14.2,0.4],[14.35,1.0],[14.5,0.1],[14.65,1.2],[14.8,0.3],[14.95,0.9],[15.1,0.1],[15.25,1.0],[15.4,0.3],[15.55,0.6],[15.7,0.1],[15.85,0.8],[16.0,0.2],[16.15,0.5],[16.3,0.1],[20.1,0.05]];
const ffSumPro = [[0,0.05],[2.2,0.05],[2.35,1.2],[2.5,0.2],[2.65,2.0],[2.8,0.4],[2.95,1.1],[3.1,0.2],[3.25,2.3],[3.4,0.4],[3.55,1.2],[3.7,0.2],[3.85,2.4],[4.0,0.5],[4.15,1.1],[4.3,0.2],[4.45,2.2],[4.6,0.4],[4.75,1.3],[4.9,0.2],[5.05,2.5],[5.2,0.4],[5.35,1.0],[5.5,0.2],[5.65,2.3],[5.8,0.5],[5.95,1.2],[6.1,0.2],[6.25,2.4],[6.4,0.4],[6.55,1.1],[6.7,0.2],[6.85,2.2],[7.0,0.5],[7.15,1.3],[7.3,0.2],[7.45,2.3],[7.6,0.4],[7.75,1.0],[7.9,0.2],[8.05,2.5],[8.2,0.4],[8.35,1.2],[8.5,0.2],[8.65,2.2],[8.8,0.5],[8.95,1.1],[9.1,0.2],[9.25,2.4],[9.4,0.4],[9.55,1.2],[9.7,0.2],[9.85,2.3],[10.0,0.4],[10.15,1.0],[10.3,0.2],[10.45,2.2],[10.6,0.5],[10.75,1.2],[10.9,0.2],[11.05,2.4],[11.2,0.4],[11.35,1.1],[11.5,0.2],[11.65,2.1],[11.8,0.4],[11.95,1.0],[12.1,0.2],[12.25,2.2],[12.4,0.5],[12.55,1.1],[12.7,0.2],[12.85,2.0],[13.0,0.4],[13.15,1.0],[13.3,0.2],[13.45,1.8],[13.6,0.4],[13.75,0.8],[13.9,0.15],[14.1,0.3],[14.3,0.08],[15.0,0.12],[15.6,0.05],[16.2,0.13],[16.8,0.06],[17.4,0.12],[18.0,0.05],[18.6,0.13],[19.2,0.06],[20.1,0.1]];

const ffRefBase = [[0,0],[2.2,0],[2.45,-1.2],[2.6,-0.6],[2.95,1.5],[3.2,0.8],[3.4,-0.8],[3.65,-2.0],[3.95,-0.8],[4.15,0.8],[4.45,2.1],[4.75,0.9],[4.9,-0.8],[5.15,-2.2],[5.45,-0.9],[5.65,0.8],[5.95,2.2],[6.25,0.9],[6.4,-0.8],[6.65,-2.1],[6.95,-0.8],[7.1,0.8],[7.35,2.0],[7.65,0.9],[7.8,-0.8],[8.05,-2.2],[8.35,-0.9],[8.5,0.8],[8.75,2.1],[9.05,0.8],[9.2,-0.9],[9.45,-2.5],[9.75,-1.0],[9.95,0.8],[10.25,2.0],[10.55,0.8],[10.7,-0.8],[10.95,-2.2],[11.25,-0.9],[11.4,0.8],[11.65,2.1],[11.9,0.8],[12.05,-0.8],[12.25,-2.0],[12.55,-0.8],[12.7,0.7],[12.95,1.8],[13.25,0.7],[13.4,-0.7],[13.65,-1.9],[13.95,-0.7],[14.1,0.8],[14.35,2.1],[14.65,0.8],[14.8,-0.8],[15.05,-1.9],[15.35,-0.7],[15.55,0.6],[15.85,1.5],[16.1,0.4],[16.3,-0.3],[16.5,0.1],[16.65,-0.18],[16.8,0.16],[16.95,-0.06],[17.1,0.2],[17.25,-0.14],[17.4,0.08],[17.55,-0.22],[17.7,0.18],[17.85,-0.04],[18.0,0.14],[18.15,-0.2],[18.3,0.1],[18.45,-0.12],[18.6,0.22],[18.75,-0.16],[18.9,0.06],[19.05,-0.2],[19.2,0.16],[19.35,-0.08],[19.5,0.2],[19.65,-0.14],[19.8,0.04],[19.95,-0.18],[20.1,0.1]];
const ffRefPro = [[0,0],[2.2,0],[2.4,-0.8],[2.55,-0.3],[2.8,1.6],[3.0,0.9],[3.15,-0.5],[3.35,-2.0],[3.55,-0.9],[3.75,0.8],[3.95,2.2],[4.15,1.0],[4.3,-0.8],[4.5,-2.3],[4.7,-1.0],[4.9,0.9],[5.1,2.3],[5.3,1.0],[5.45,-0.8],[5.65,-2.4],[5.85,-1.0],[6.05,0.9],[6.25,2.4],[6.45,1.0],[6.6,-0.9],[6.8,-2.3],[7.0,-1.0],[7.2,0.9],[7.4,2.3],[7.6,1.0],[7.75,-0.9],[7.95,-2.4],[8.15,-1.0],[8.35,0.8],[8.55,2.2],[8.75,1.0],[8.95,-0.9],[9.15,-2.3],[9.35,-1.0],[9.55,0.9],[9.75,2.3],[9.95,1.0],[10.15,-0.9],[10.35,-2.2],[10.55,-1.0],[10.75,0.9],[10.95,2.2],[11.15,1.0],[11.35,-0.8],[11.55,-2.1],[11.75,-0.9],[11.95,0.8],[12.15,2.1],[12.35,0.9],[12.55,-0.8],[12.75,-2.0],[12.95,-0.8],[13.15,0.7],[13.35,1.8],[13.55,0.6],[13.75,-0.5],[13.95,-0.9],[14.15,0.1],[14.3,0.3],[14.45,-0.22],[14.6,0.18],[14.75,-0.06],[14.9,0.24],[15.05,-0.2],[15.2,0.1],[15.35,-0.26],[15.5,0.16],[15.65,-0.1],[15.8,0.22],[15.95,-0.16],[16.1,0.06],[16.25,-0.24],[16.4,0.2],[16.55,-0.08],[16.7,0.14],[16.85,-0.22],[17.0,0.26],[17.15,-0.12],[17.3,0.1],[17.45,-0.2],[17.6,0.18],[17.75,-0.04],[17.9,0.2],[18.05,-0.26],[18.2,0.12],[18.35,-0.14],[18.5,0.24],[18.65,-0.18],[18.8,0.08],[18.95,-0.2],[19.1,0.22],[19.25,-0.1],[19.4,0.16],[19.55,-0.24],[19.7,0.14],[19.85,-0.06],[20.0,0.2],[20.1,0]];

// ---------- axes ----------
const xTicks = [0, 5, 10, 15, 20];
const yTicks = [[100, 200], [0, 10], [-2.5, 0, 2.5], [0, 2.5], [-2.5, 0, 2.5]];
const yDecimals = [0, 0, 1, 1, 1];
const yMin = [36, -0.69, -3.33, -0.2, -3.66];
const yMax = [219.4, 13.35, 3.08, 3.28, 2.93];
const xMin = -1.07, xMax = 21.15;

const titles = ['vs. Unilateral', 'vs. Symmetric Position', 'vs. Force Feedback'];
const baseNames = ['Unilateral', 'Symmetric Position', 'Force Feedback'];
const rowLabels = [
  '<i>θ</i><br>[deg]',
  '|<i>θ</i><sub><i>l</i></sub> − <i>θ</i><sub><i>f</i></sub>|<br>[deg]',
  '<span class="hat">τ<b>ˆ</b></span><br>[Nm]',
  '|<span class="hat">τ<b>ˆ</b></span><sub><i>l</i></sub> + <span class="hat">τ<b>ˆ</b></span><sub><i>f</i></sub>|<br>[Nm]',
  '<i>τ</i><sub><i>ref</i></sub><br>[Nm]'
];

// ---------- layout ----------
const boxLeft = [122, 657, 1192];
const boxTop = [204, 308, 412, 516, 620];
const boxW = 448, boxH = 88;
const PRO = '#1f77b4', PRO_L = '#aec7e8';
const baseColor = ['#ff7f0e', '#2ca02c', '#d62728'];
const baseLight = ['#ffbb78', '#98df8a', '#ff9896'];
const FONT = '"Liberation Serif", "DejaVu Serif", serif';

// [baseline leader, proposed leader, baseline follower, proposed follower] per column, per row
const panels = [
  [
    [null, null, uniThetaBase, uniThetaPro],
    [null, null, uniErrBase, uniErrPro],
    [uniTauBaseL, uniTauProL, uniTauBase, uniTauPro],
    [null, null, uniSumBase, uniSumPro],
    [uniRefBaseL, null, uniRefBase, uniRefPro]
  ],
  [
    [null, null, symThetaBase, symThetaPro],
    [null, null, symErrBase, symErrPro],
    [symTauBaseL, symTauProL, symTauBase, symTauPro],
    [null, null, symSumBase, symSumPro],
    [null, null, symRefBase, symRefPro]
  ],
  [
    [null, null, ffThetaBase, ffThetaPro],
    [null, null, ffErrBase, ffErrPro],
    [ffTauBaseL, ffTauProL, ffTauBase, ffTauPro],
    [null, null, ffSumBase, ffSumPro],
    [null, null, ffRefBase, ffRefPro]
  ]
];

// thick frame + inward ticks, like the matplotlib style of the figure
const framePlugin = {
  id: 'frame',
  afterDraw(chart) {
    const { ctx, chartArea: a, scales } = chart;
    ctx.save();
    ctx.strokeStyle = '#000';
    ctx.lineWidth = 1.8;
    ctx.beginPath();
    scales.x.ticks.forEach(t => {
      const px = scales.x.getPixelForValue(t.value);
      ctx.moveTo(px, a.bottom); ctx.lineTo(px, a.bottom - 9);
    });
    scales.y.ticks.forEach(t => {
      const py = scales.y.getPixelForValue(t.value);
      ctx.moveTo(a.left, py); ctx.lineTo(a.left + 9, py);
    });
    ctx.stroke();
    ctx.lineWidth = 4;
    ctx.strokeRect(a.left, a.top, a.right - a.left, a.bottom - a.top);
    ctx.restore();
  }
};

function fmtTick(v, row) {
  return v.toFixed(yDecimals[row]).replace('-', '\u2212');
}

function makePanel(col, row) {
  const L = 50, T = 14, R = 14;
  const B = row === 4 ? 58 : 14;
  const cv = document.createElement('canvas');
  cv.width = L + boxW + R;
  cv.height = T + boxH + B;
  cv.style.left = (boxLeft[col] - L) + 'px';
  cv.style.top = (boxTop[row] - T) + 'px';
  document.body.appendChild(cv);

  const series = panels[col][row];
  const styles = [
    { color: baseLight[col], dash: [5, 2] },
    { color: PRO_L, dash: [5, 2] },
    { color: baseColor[col], dash: [] },
    { color: PRO, dash: [] }
  ];
  const smooth = row === 0 || row === 2 || row === 4;
  const datasets = [];
  // proposed follower is drawn on top, so it goes first
  [3, 2, 1, 0].forEach(i => {
    if (!series[i]) return;
    datasets.push({
      data: series[i].map(([x, y]) => ({ x, y })),
      borderColor: styles[i].color,
      borderDash: styles[i].dash,
      borderWidth: row === 0 ? 1.7 : 1.9,
      pointRadius: 0,
      fill: false,
      tension: 0,
      cubicInterpolationMode: smooth ? 'monotone' : 'default'
    });
  });

  new Chart(cv, {
    type: 'line',
    data: { datasets },
    options: {
      responsive: false,
      animation: false,
      events: [],
      layout: { padding: { left: 0, top: T, right: R, bottom: 0 } },
      plugins: { legend: { display: false }, tooltip: { enabled: false } },
      scales: {
        x: {
          type: 'linear', min: xMin, max: xMax,
          grid: { display: false, drawTicks: false },
          border: { display: false },
          afterBuildTicks: s => { s.ticks = xTicks.map(v => ({ value: v })); },
          afterFit: s => { s.height = B; s.paddingLeft = 0; s.paddingRight = 0; },
          ticks: { display: row === 4, padding: 1, color: '#000', maxRotation: 0, autoSkip: false,
                   font: { family: FONT, size: 21 } },
          title: { display: row === 4, text: 'time [s]', color: '#000', padding: 0,
                   font: { family: FONT, size: 31 } }
        },
        y: {
          type: 'linear', min: yMin[row], max: yMax[row],
          grid: { display: false, drawTicks: false },
          border: { display: false },
          afterBuildTicks: s => { s.ticks = yTicks[row].map(v => ({ value: v })); },
          afterFit: s => { s.width = L; s.paddingTop = 0; s.paddingBottom = 0; },
          ticks: { display: col === 0, padding: 4, color: '#000', autoSkip: false,
                   font: { family: FONT, size: 21 },
                   callback: v => fmtTick(v, row) }
        }
      }
    },
    plugins: [framePlugin]
  });
}

// ---------- titles, legends, row labels ----------
const legendSample = [[146, 370], [631, 955], [1187, 1470]];
const legendText = [[218, 443], [703, 1026], [1259, 1541]];
const legendLineY = [94, 157];
const legendTextTop = [65, 128];

function addDiv(cls, html, css) {
  const d = document.createElement('div');
  d.className = cls;
  d.innerHTML = html;
  Object.assign(d.style, css);
  document.body.appendChild(d);
  return d;
}

function sampleLine(x, y, color, dashed) {
  const ns = 'http://www.w3.org/2000/svg';
  const svg = document.createElementNS(ns, 'svg');
  svg.setAttribute('class', 'sample');
  svg.setAttribute('width', 52);
  svg.setAttribute('height', 6);
  svg.style.left = x + 'px';
  svg.style.top = (y - 3) + 'px';
  const ln = document.createElementNS(ns, 'line');
  ln.setAttribute('x1', 0); ln.setAttribute('x2', 51);
  ln.setAttribute('y1', 3); ln.setAttribute('y2', 3);
  ln.setAttribute('stroke', color);
  ln.setAttribute('stroke-width', dashed ? 1.6 : 2.2);
  if (dashed) ln.setAttribute('stroke-dasharray', '5 2.5');
  svg.appendChild(ln);
  document.body.appendChild(svg);
}

for (let c = 0; c < 3; c++) {
  const center = boxLeft[c] + boxW / 2;
  addDiv('title', titles[c], { left: center + 'px' });
  const names = [baseNames[c], 'Proposed'];
  const light = [baseLight[c], PRO_L];
  const dark = [baseColor[c], PRO];
  for (let k = 0; k < 2; k++) {
    sampleLine(legendSample[c][k], legendLineY[0], light[k], true);
    sampleLine(legendSample[c][k], legendLineY[1], dark[k], false);
    addDiv('leg', names[k] + '<br>(leader)', { left: legendText[c][k] + 'px', top: legendTextTop[0] + 'px' });
    addDiv('leg', names[k] + '<br>(follower)', { left: legendText[c][k] + 'px', top: legendTextTop[1] + 'px' });
  }
}

for (let r = 0; r < 5; r++) {
  const cy = boxTop[r] + boxH / 2;
  addDiv('ylab', rowLabels[r], { left: (48 - 120) + 'px', top: (cy - 28) + 'px' });
}

for (let c = 0; c < 3; c++) {
  for (let r = 0; r < 5; r++) makePanel(c, r);
}
</script>
</body>
</html>
